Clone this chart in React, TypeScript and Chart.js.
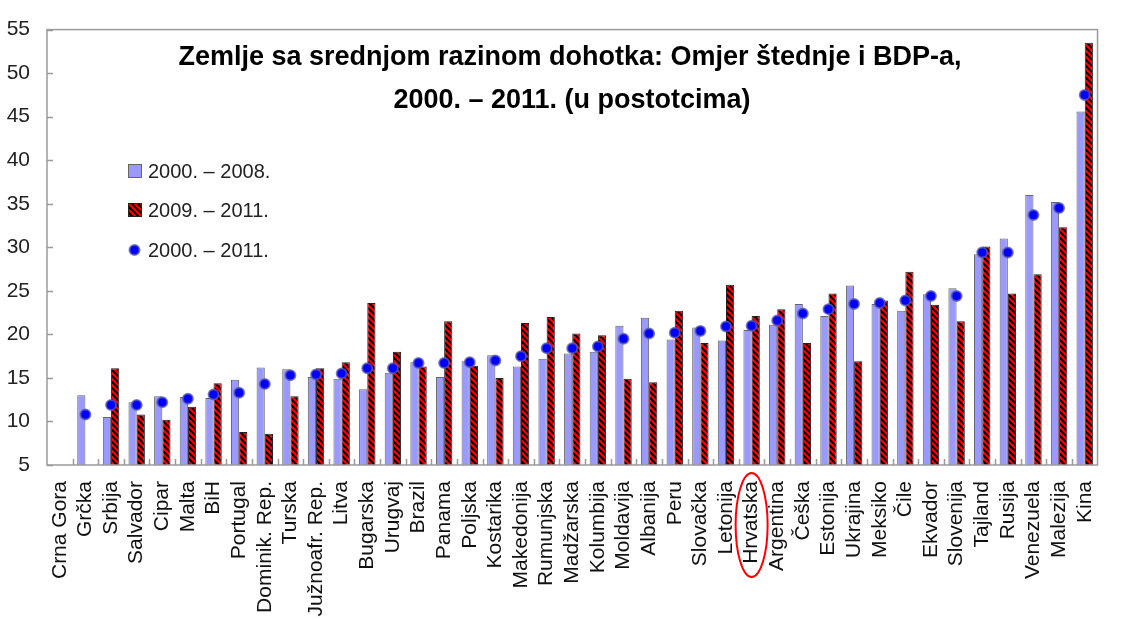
import React, { useEffect, useRef } from "react";
import { Chart, registerables } from "chart.js";

Chart.register(...registerables);

const categories = [
  "Crna Gora", "Grčka", "Srbija", "Salvador", "Cipar", "Malta", "BiH", "Portugal",
  "Dominik. Rep.", "Turska", "Južnoafr. Rep.", "Litva", "Bugarska", "Urugvaj", "Brazil",
  "Panama", "Poljska", "Kostarika", "Makedonija", "Rumunjska", "Madžarska", "Kolumbija",
  "Moldavija", "Albanija", "Peru", "Slovačka", "Letonija", "Hrvatska", "Argentina",
  "Češka", "Estonija", "Ukrajina", "Meksiko", "Čile", "Ekvador", "Slovenija", "Tajland",
  "Rusija", "Venezuela", "Malezija", "Kina",
];

const seriesLabels = ["2000. – 2008.", "2009. – 2011.", "2000. – 2011."];

const values2000to2008 = [
  null, 13.0, 10.5, 12.2, 12.9, 12.8, 12.7, 14.8, 16.2, 16.0, 15.1, 14.9, 13.7, 15.6, 16.8,
  15.1, 16.9, 17.6, 16.3, 17.2, 17.8, 18.0, 21.0, 21.9, 19.4, 20.8, 19.3, 20.5, 21.1,
  23.5, 22.1, 25.6, 23.5, 22.7, 24.6, 25.3, 29.2, 31.0, 36.0, 35.2, 45.6,
];

const values2009to2011 = [
  null, null, 16.1, 10.8, 10.2, 11.7, 14.4, 8.8, 8.6, 12.9, 16.1, 16.8, 23.6, 18.0, 16.3,
  21.5, 16.4, 15.0, 21.3, 22.0, 20.1, 19.9, 14.9, 14.5, 22.7, 19.0, 25.7, 22.1, 22.9,
  19.0, 24.7, 16.9, 23.9, 27.2, 23.4, 21.5, 30.1, 24.7, 26.9, 32.3, 53.5,
];

const values2000to2011 = [
  null, 10.8, 11.9, 11.9, 12.2, 12.6, 13.1, 13.3, 14.3, 15.3, 15.4, 15.5, 16.1, 16.1, 16.7,
  16.7, 16.8, 17.0, 17.5, 18.4, 18.4, 18.6, 19.5, 20.1, 20.2, 20.4, 20.9, 21.0, 21.6,
  22.4, 22.9, 23.5, 23.6, 23.9, 24.4, 24.4, 29.4, 29.4, 33.7, 34.5, 47.5,
];

const titleLines = [
  "Zemlje sa srednjom razinom dohotka: Omjer štednje i BDP-a,",
  "2000. – 2011. (u postotcima)",
];

const highlighted = "Hrvatska";

const FONT = "'Liberation Sans', Arial, sans-serif";
const BLUE_FILL = "rgb(153,153,255)";
const AXIS_COLOR = "#9a9a9a";

function makeHatch(): CanvasPattern | string {
  const s = 6;
  const c = document.createElement("canvas");
  c.width = s;
  c.height = s;
  const g = c.getContext("2d");
  if (!g) return "red";
  g.fillStyle = "#ff0000";
  g.fillRect(0, 0, s, s);
  g.strokeStyle = "#000000";
  g.lineWidth = 2.2;
  g.beginPath();
  g.moveTo(-1, -1);
  g.lineTo(s + 1, s + 1);
  g.moveTo(-1 - s, -1);
  g.lineTo(1, s + 1);
  g.moveTo(s - 1, -1);
  g.lineTo(2 * s + 1, s + 1);
  g.stroke();
  const p = g.createPattern(c, "repeat");
  return p || "red";
}

export default function App() {
  const ref = useRef<HTMLCanvasElement | null>(null);

  useEffect(() => {
    if (!ref.current) return;
    const hatch = makeHatch();

    const overlay = {
      id: "overlay",
      afterDraw(chart: any) {
        const ctx = chart.ctx as CanvasRenderingContext2D;
        const area = chart.chartArea;
        const xs = chart.scales.x;
        const ys = chart.scales.y;
        ctx.save();
        // frame
        ctx.strokeStyle = AXIS_COLOR;
        ctx.lineWidth = 1.5;
        ctx.strokeRect(area.left, area.top, area.right - area.left, area.bottom - area.top);
        // inner tick marks on y
        ctx.beginPath();
        ys.ticks.forEach((t: any) => {
          const y = Math.round(ys.getPixelForValue(t.value)) + 0.5;
          ctx.moveTo(area.left, y);
          ctx.lineTo(area.left + 6, y);
        });
        // inner tick marks on x between categories
        for (let i = 1; i < categories.length; i++) {
          const x = Math.round((xs.getPixelForValue(i - 1) + xs.getPixelForValue(i)) / 2) + 0.5;
          ctx.moveTo(x, area.bottom);
          ctx.lineTo(x, area.bottom - 6);
        }
        ctx.stroke();

        // title
        ctx.fillStyle = "#000";
        ctx.textAlign = "center";
        ctx.textBaseline = "alphabetic";
        ctx.font = `bold 27px ${FONT}`;
        ctx.fillText(titleLines[0], 570, 65);
        ctx.fillText(titleLines[1], 572, 108);

        // legend
        ctx.font = `20px ${FONT}`;
        ctx.textAlign = "left";
        ctx.textBaseline = "middle";
        const lx = 128;
        const rows = [171, 210, 250];
        ctx.fillStyle = BLUE_FILL;
        ctx.fillRect(lx, rows[0] - 7, 14, 14);
        ctx.strokeStyle = "#666";
        ctx.lineWidth = 1;
        ctx.strokeRect(lx + 0.5, rows[0] - 6.5, 13, 13);
        ctx.fillStyle = hatch as any;
        ctx.fillRect(lx, rows[1] - 7, 14, 14);
        ctx.strokeStyle = "#222";
        ctx.strokeRect(lx + 0.5, rows[1] - 6.5, 13, 13);
        ctx.beginPath();
        ctx.arc(lx + 6.5, rows[2], 5, 0, Math.PI * 2);
        ctx.fillStyle = "#0000ff";
        ctx.fill();
        ctx.lineWidth = 2;
        ctx.strokeStyle = "rgba(90,90,170,0.75)";
        ctx.stroke();
        ctx.fillStyle = "#222";
        rows.forEach((ry, i) => ctx.fillText(seriesLabels[i], 148, ry + 1));

        // highlight ellipse around category label
        const hi = categories.indexOf(highlighted);
        if (hi >= 0) {
          const cx = xs.getPixelForValue(hi);
          ctx.beginPath();
          ctx.ellipse(cx, 525, 16, 52, 0, 0, Math.PI * 2);
          ctx.strokeStyle = "#ff0000";
          ctx.lineWidth = 2;
          ctx.stroke();
        }
        ctx.restore();
      },
    };

    const chart = new Chart(ref.current, {
      type: "bar",
      data: {
        labels: categories,
        datasets: [
          {
            type: "line",
            label: seriesLabels[2],
            data: values2000to2011,
            showLine: false,
            pointRadius: 5,
            pointHoverRadius: 5,
            pointBackgroundColor: "#0000ff",
            pointBorderColor: "rgba(90,90,170,0.75)",
            pointBorderWidth: 2,
            order: 0,
          } as any,
          {
            type: "bar",
            label: seriesLabels[0],
            data: values2000to2008,
            backgroundColor: BLUE_FILL,
            borderColor: "#666",
            borderWidth: 1,
            categoryPercentage: 0.64,
            barPercentage: 1.0,
            order: 1,
          },
          {
            type: "bar",
            label: seriesLabels[1],
            data: values2009to2011,
            backgroundColor: hatch as any,
            borderColor: "#222",
            borderWidth: 1,
            categoryPercentage: 0.64,
            barPercentage: 1.0,
            order: 1,
          },
        ],
      },
      options: {
        animation: false,
        responsive: false,
        maintainAspectRatio: false,
        layout: { padding: { top: 19, right: 4, left: 0, bottom: 0 } },
        plugins: {
          legend: { display: false },
          title: { display: false },
          tooltip: { enabled: false },
        },
        scales: {
          x: {
            grid: { display: false, drawTicks: false },
            border: { display: false },
            ticks: {
              autoSkip: false,
              maxRotation: 90,
              minRotation: 90,
              padding: 16,
              color: "#111",
              font: { family: FONT, size: 21 },
            },
            afterFit: (s: any) => {
              s.height = 157;
            },
          },
          y: {
            min: 5,
            max: 55,
            grid: { display: false, drawTicks: false },
            border: { display: false },
            ticks: {
              stepSize: 5,
              padding: 17,
              color: "#222",
              font: { family: FONT, size: 21 },
            },
            afterFit: (s: any) => {
              s.width = 47;
            },
          },
        },
      },
      plugins: [overlay],
    });

    return () => chart.destroy();
  }, []);

  return (
    <div style={{ position: "fixed", left: 0, top: 0, width: 1126, height: 622, background: "#fff" }}>
      <canvas ref={ref} width={1126} height={622} style={{ width: 1126, height: 622, display: "block" }} />
    </div>
  );
}
